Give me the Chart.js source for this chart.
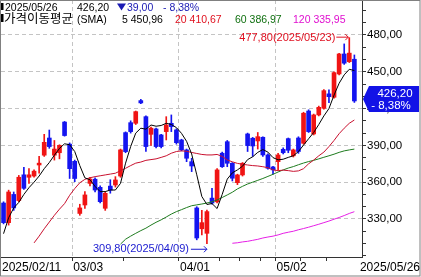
<!DOCTYPE html>
<html>
<head>
<meta charset="utf-8">
<script src="https://cdn.jsdelivr.net/npm/chart.js@4"></script>
<style>
html, body { margin: 0; padding: 0; background: #fff; }
</style>
</head>
<body>
<canvas id="chart" width="421" height="277"></canvas>
<script>
// Trading days shown on the chart
var dates = [
    '02/11','02/12','02/13','02/14','02/17','02/18','02/19','02/20','02/21','02/24','02/25','02/26','02/27','02/28',
    '03/03','03/04','03/05','03/06','03/07','03/10','03/11','03/12','03/13','03/14','03/17','03/18','03/19','03/20',
    '03/21','03/24','03/25','03/26','03/27','03/28','03/31',
    '04/01','04/02','04/03','04/07','04/08','04/09','04/10','04/11','04/14','04/15','04/16','04/17','04/22','04/23',
    '04/24','04/25','04/28','04/29','04/30',
    '05/02','05/06','05/07','05/08','05/09','05/12','05/13','05/14','05/15','05/16','05/19','05/20','05/21','05/22',
    '05/23','05/26'
];

// Candles
var opens = [343,327,350,345,366,364,365,374,382,396,382,384,409,391,377,334.5,341.4,359,362.4,355.8,
    338.7,356.8,357.7,365,400.4,408.5,408,426.5,413.4,399,403.4,398.5,401.2,408,402.6,394.4,386.3,376.7,339,322,
    318.3,347,344,383.6,393,375.4,359.6,365.9,399.3,395.8,393.6,396.6,382.2,372.4,376.7,386.8,395.5,381.5,396,391.7,
    418,399.3,414.8,420.2,432,429.2,448.2,464.5,458.2,460.2];
var highs = [344,353.5,352,365.5,372,371,370,381,399,402.5,394,390.5,409.5,392,378,342,352.3,364,363.5,357,
    352.3,362,364.5,387,401,410,418,427.5,414,405,404,399,413.4,414.8,403.5,395,387,379.5,340,337,
    337.3,355,371,384.5,394,376,366.5,376,400,396.5,400.5,397,383,373,383.5,388,396,387,397,417,
    419,415.5,422,435.5,435.2,450,465,472.7,477.8,463.7];
var lows = [326,325,337,344,354,359,364,367.3,381,387.6,378,379,397.5,363,360.4,333,338.7,357,352,343,
    337,351,356,364,384,400,407,424,385,390,388,388,394.4,401.2,391,385.5,376.7,368.6,313,317,
    309.8,342,343,372,372.6,361,358,365,385,381,387,381,370.5,366.5,370,383,384,380.5,383.5,391,
    400.5,398.5,414,419.5,424.8,428.5,447.5,456,457.5,425];
var closes = [327,352,339,364,355,366,369,375.5,392.5,389,387,390,398,371,363,339,349.6,362.6,353.6,344.1,
    350.9,353.6,361.8,386.3,384.9,401.2,417.5,424.6,389,404,389,389,406.6,405.3,392.2,386.3,379.5,373.2,314.5,327,
    336,343,370,372.6,375.4,363.2,365.9,375.4,389.8,389.5,397.1,382.2,371.3,370,382.2,384,386,386.3,385,416.2,
    401.2,414.8,421,434.6,429.7,449.3,464.5,457,465.2,426.2];

// Moving average lines
var ma5 = [318,331,339,343.5,350,355.5,360,365,371,376,382,387.5,391.3,390.5,385,373.5,363.5,362,356.5,352.3,
    352.3,353.6,353.6,359,375.5,389,400,404,403.2,406.6,405.6,406.2,408,407,404.5,399.8,393.3,383,366,348.3,
    341.8,342.6,338.5,350,362.5,367.6,370,373,378.4,380.7,384.3,386.6,384.5,380,378.2,378.7,380.2,381.5,385,390.2,
    395.4,400.5,407,414,420,431,440.6,447.5,452,450.96];
var ma20 = [null,null,null,null,null,null,310.5,316,322,327.5,333,338,342.5,349.3,354.8,359.5,
    362.3,363.6,364.5,365.2,365.9,366.6,367.3,369.3,371.3,373.5,
    375.5,376.4,377.8,378.4,379,380.2,381.5,383.6,385,385.5,
    385.2,384.2,383.4,382.6,382.2,382.2,382.6,381,378.1,376.6,
    375.3,374.6,374,373.5,373.2,372.6,371.8,370,369.4,369.8,
    369.4,368.8,369.2,371,375,378,381.5,384.5,389,394,
    399.5,404,408,410.67];
var ma60 = [null,null,null,null,null,null,null,null,null,null,null,null,null,null,null,null,null,null,null,null,
    null,null,null,
    309.5,313.5,316,318.3,320.5,322.5,325,327.3,329.3,331.6,
    334,336,337.6,339.3,340.8,341.5,342.2,343,344,345.5,
    347.5,349.6,351.8,354.5,356.6,358.5,360,361.5,363,364.7,
    366.4,368.3,370,371.5,372.7,374.2,375.6,376.8,377.8,379,
    380.3,381.5,382.8,384.3,385.5,386.3,386.97];
var ma120 = [null,null,null,null,null,null,null,null,null,null,null,null,null,null,null,null,null,null,null,null,
    null,null,null,null,null,null,null,null,null,null,null,null,null,null,null,null,null,null,null,null,
    null,null,null,null,null,
    310.2,310.6,311.3,311.8,312.6,313.4,314.5,315.3,316,317,
    318.3,319.2,320,321.2,322.2,323.3,324.5,325.7,327,328.3,
    329.8,331.2,332.8,334.5,335.95];

// Axis ticks and labels
var yLabelTicks = [330,360,390,420,450,480];
var yMinorTicks = [300,310,320,330,340,350,360,370,380,390,400,410,420,430,440,450,460,470,480,490,500];
var xLabelIdx = [0,14,35,54];
var xLabelText = ['2025/02/11','03/03','04/01','05/02'];
var xGridIdx = [14,35,54];
var xMinorIdx = [24,43,47,51,59,64];
var lastDate = '2025/05/26';

// Header / markers
var lastClose = 426.20;
var changeText = '39,00';
var changePctText = '- 8,38%';
var maxIdx = 68, maxValue = 477.80, maxDate = '2025/05/23';
var minIdx = 40, minValue = 309.80, minDate = '2025/04/09';

var upColor = '#f01414';
var downColor = '#1414f0';

function fmt(v) {
    return v.toFixed(2).replace('.', ',');
}

var candleColors = closes.map(function(c, i) { return c >= opens[i] ? upColor : downColor; });
var labels = dates.concat(['']);

var overlay = {
    id: 'overlay',
    afterDraw: function(chart) {
        var ctx = chart.ctx, xs = chart.scales.x, ys = chart.scales.y;
        var half = (xs.getPixelForValue(1) - xs.getPixelForValue(0)) / 2;
        ctx.save();

        // frame
        ctx.strokeStyle = '#808080';
        ctx.lineWidth = 1;
        ctx.strokeRect(0.5, 0.5, 419.5, 275.5);

        // x labels
        ctx.font = '12px "Liberation Sans"';
        ctx.fillStyle = '#000';
        ctx.textBaseline = 'alphabetic';
        ctx.textAlign = 'left';
        xLabelIdx.forEach(function(idx, k) {
            ctx.fillText(xLabelText[k], xs.getPixelForValue(idx) - half + 1, 271);
        });
        ctx.textAlign = 'right';
        ctx.fillText(lastDate, 420, 271);

        // highest point marker
        ctx.font = '11px "Liberation Sans"';
        ctx.textBaseline = 'middle';
        var hx = xs.getPixelForValue(maxIdx), hy = ys.getPixelForValue(maxValue) - 1;
        ctx.strokeStyle = '#e01020';
        ctx.fillStyle = '#e01020';
        ctx.beginPath();
        ctx.moveTo(hx - 13, hy + 0.5); ctx.lineTo(hx - 1, hy + 0.5);
        ctx.moveTo(hx - 4, hy - 2.5); ctx.lineTo(hx - 1, hy + 0.5); ctx.lineTo(hx - 4, hy + 3.5);
        ctx.stroke();
        ctx.textAlign = 'right';
        ctx.fillText(fmt(maxValue) + '(' + maxDate + ')', hx - 14, hy + 1);

        // lowest point marker
        var lx = xs.getPixelForValue(minIdx), ly = ys.getPixelForValue(minValue) + 5;
        ctx.strokeStyle = '#1a1ad0';
        ctx.fillStyle = '#1a1ad0';
        ctx.beginPath();
        ctx.moveTo(lx - 16, ly + 0.5); ctx.lineTo(lx, ly + 0.5);
        ctx.moveTo(lx - 3, ly - 2.5); ctx.lineTo(lx, ly + 0.5); ctx.lineTo(lx - 3, ly + 3.5);
        ctx.stroke();
        ctx.fillText(fmt(minValue) + '(' + minDate + ')', lx - 18, ly + 0.5);

        // current price box
        var py = ys.getPixelForValue(lastClose) - 2;
        ctx.fillStyle = '#1212e6';
        ctx.beginPath();
        ctx.moveTo(363, py); ctx.lineTo(369, py - 13); ctx.lineTo(419, py - 13);
        ctx.lineTo(419, py + 13); ctx.lineTo(369, py + 13); ctx.closePath();
        ctx.fill();
        ctx.fillStyle = '#fff';
        ctx.textAlign = 'center';
        ctx.font = '11.5px "Liberation Sans"';
        ctx.fillText(fmt(lastClose), 395, py - 5.5);
        ctx.fillText(changePctText, 391, py + 6.5);

        // header
        ctx.textAlign = 'left';
        ctx.textBaseline = 'alphabetic';
        ctx.fillStyle = '#000';
        ctx.fillRect(1, 3, 2.5, 7);
        ctx.fillRect(1, 14, 2.5, 8);
        ctx.font = '10.5px "Liberation Sans"';
        ctx.fillText(lastDate, 5, 10.5);
        ctx.fillText(fmt(lastClose), 77, 10.5);
        ctx.fillStyle = '#1a1ab4';
        ctx.beginPath();
        ctx.moveTo(117, 3.5); ctx.lineTo(126, 3.5); ctx.lineTo(121.5, 10.5); ctx.closePath();
        ctx.fill();
        ctx.fillText(changeText, 127, 10.5);
        ctx.fillText(changePctText, 163, 10.5);

        ctx.fillStyle = '#000';
        ctx.font = '12.5px "Noto Sans CJK KR"';
        ctx.fillText('가격이동평균', 4, 23);
        ctx.font = '10.5px "Liberation Sans"';
        ctx.fillText('(SMA)', 77, 22.5);
        ctx.fillText('5 ' + fmt(ma5[ma5.length - 1]), 122, 22.5);
        ctx.fillStyle = '#e0101e';
        ctx.fillText('20 ' + fmt(ma20[ma20.length - 1]), 175, 22.5);
        ctx.fillStyle = '#107010';
        ctx.fillText('60 ' + fmt(ma60[ma60.length - 1]), 235, 22.5);
        ctx.fillStyle = '#e010d0';
        ctx.fillText('120 ' + fmt(ma120[ma120.length - 1]), 293, 22.5);

        ctx.restore();
    }
};

new Chart(document.getElementById('chart'), {
    type: 'bar',
    data: {
        labels: labels,
        datasets: [
            {type: 'line', data: ma5, borderColor: '#000', borderWidth: 1, pointRadius: 0, tension: 0, order: 0},
            {type: 'line', data: ma20, borderColor: '#c8102e', borderWidth: 1, pointRadius: 0, tension: 0, order: 0},
            {type: 'line', data: ma60, borderColor: '#1e7b1e', borderWidth: 1, pointRadius: 0, tension: 0, order: 0},
            {type: 'line', data: ma120, borderColor: '#e61ee6', borderWidth: 1, pointRadius: 0, tension: 0, order: 0},
            {
                data: opens.map(function(o, i) { return [o, closes[i]]; }),
                backgroundColor: candleColors, borderWidth: 0,
                barThickness: 4, minBarLength: 1, grouped: false, order: 1
            },
            {
                data: lows.map(function(l, i) { return [l, highs[i]]; }),
                backgroundColor: candleColors, borderWidth: 0,
                barThickness: 1, grouped: false, order: 2
            }
        ]
    },
    options: {
        responsive: false,
        animation: false,
        events: [],
        layout: {padding: {left: 1, right: 0, top: 0, bottom: 0}},
        plugins: {legend: {display: false}, tooltip: {enabled: false}},
        scales: {
            x: {
                type: 'category',
                offset: true,
                grid: {
                    offset: true,
                    color: function(c) { return xGridIdx.indexOf(c.index) >= 0 ? '#c4c4c4' : 'rgba(0,0,0,0)'; },
                    tickColor: function(c) {
                        return (xLabelIdx.indexOf(c.index) >= 0 || xMinorIdx.indexOf(c.index) >= 0) ? '#333' : 'rgba(0,0,0,0)';
                    },
                    tickLength: 4
                },
                border: {display: true, color: '#333', dash: [4, 3]},
                ticks: {display: false, autoSkip: false},
                afterFit: function(s) { s.height = 20; s.paddingLeft = 0; s.paddingRight = 0; }
            },
            y: {
                type: 'linear',
                position: 'right',
                min: 299,
                max: 508.5,
                bounds: 'data',
                beginAtZero: false,
                afterBuildTicks: function(s) {
                    s.ticks = yMinorTicks.map(function(v) { return {value: v}; });
                },
                grid: {
                    color: function(c) { return (c.tick && yLabelTicks.indexOf(c.tick.value) >= 0) ? '#c4c4c4' : 'rgba(0,0,0,0)'; },
                    tickColor: '#333',
                    tickLength: 4
                },
                border: {display: true, color: '#333', dash: [4, 3]},
                ticks: {
                    autoSkip: false,
                    padding: 1,
                    color: '#000',
                    font: {family: 'Liberation Sans', size: 11.5},
                    callback: function(v) { return yLabelTicks.indexOf(v) >= 0 ? fmt(v) : ''; }
                },
                afterFit: function(s) { s.width = 59; s.paddingTop = 0; s.paddingBottom = 0; }
            }
        }
    },
    plugins: [overlay]
});
</script>
</body>
</html>
